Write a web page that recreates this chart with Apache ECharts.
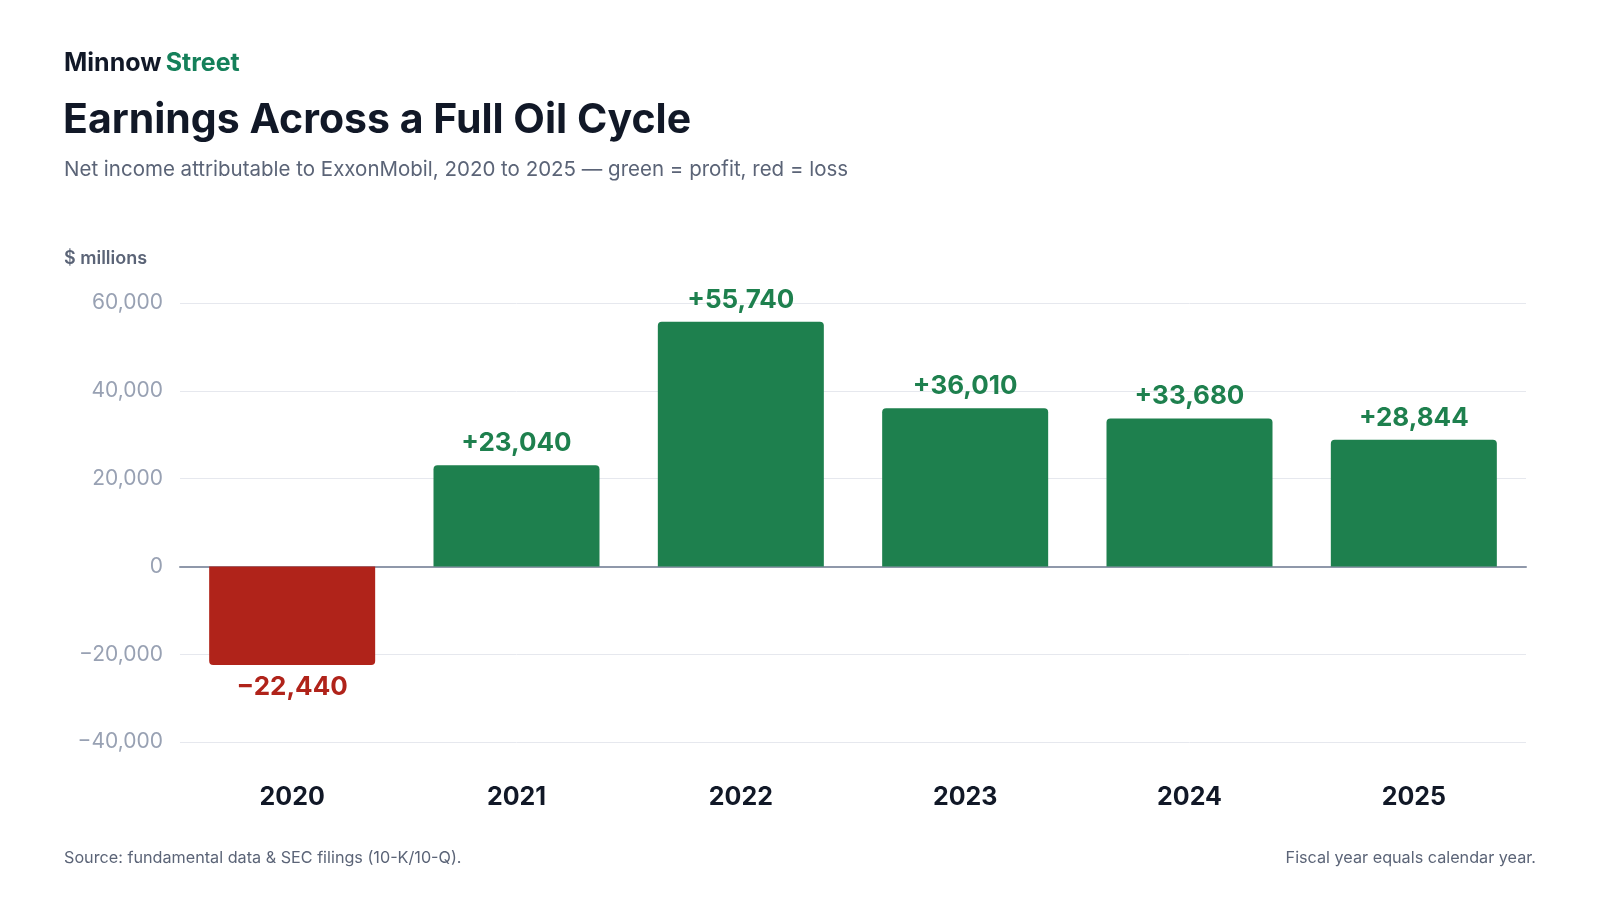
<!DOCTYPE html>
<html>
<head>
<meta charset="utf-8">
<script src="https://cdn.jsdelivr.net/npm/echarts@6/dist/echarts.min.js"></script>
<style>
  html, body { margin: 0; padding: 0; background: #fff; }
  #chart { width: 1600px; height: 900px; }
</style>
</head>
<body>
<div id="chart"></div>
<script>
// 数据
var years = ['2020', '2021', '2022', '2023', '2024', '2025'];
var netIncome = [-22440, 23040, 55740, 36010, 33680, 28844];
var yTicks = { min: -40000, max: 60000, step: 20000 };

var GREEN = '#1e804e';
var RED = '#b0231a';
var INK = '#111827';
var SLATE = '#5b6477';
var FONT = 'Inter, "Noto Sans", sans-serif';

// 千分位 + 真正的减号
var fmt = function (v, sign) {
    var s = Math.abs(v).toLocaleString('en-US');
    if (v < 0) return '\u2212' + s;
    return (sign && v > 0 ? '+' : '') + s;
};

var chart = echarts.init(document.getElementById('chart'));

var option = {
    backgroundColor: '#ffffff',
    textStyle: { fontFamily: FONT },
    title: [
        {
            text: '{a|Minnow} {b|Street}',
            left: 59, top: 43,
            textStyle: {
                rich: {
                    a: { fontSize: 25, fontWeight: 700, color: INK, fontFamily: FONT, lineHeight: 30 },
                    b: { fontSize: 25, fontWeight: 700, color: '#15805a', fontFamily: FONT, lineHeight: 30 }
                }
            }
        },
        {
            text: 'Earnings Across a Full Oil Cycle',
            left: 58, top: 91,
            textStyle: { fontSize: 41, fontWeight: 700, color: INK, fontFamily: FONT, lineHeight: 50 }
        },
        {
            text: 'Net income attributable to ExxonMobil, 2020 to 2025 \u2014 green = profit, red = loss',
            left: 59, top: 152,
            textStyle: { fontSize: 20.5, fontWeight: 400, color: SLATE, fontFamily: FONT, lineHeight: 26 }
        },
        {
            text: '$ millions',
            left: 59, top: 243,
            textStyle: { fontSize: 18, fontWeight: 600, color: SLATE, fontFamily: FONT, lineHeight: 22 }
        },
        {
            text: 'Source: fundamental data & SEC filings (10-K/10-Q).',
            left: 59, top: 843,
            textStyle: { fontSize: 16.2, fontWeight: 400, color: SLATE, fontFamily: FONT, lineHeight: 20 }
        },
        {
            text: 'Fiscal year equals calendar year.',
            right: 59, top: 843,
            textStyle: { fontSize: 16.2, fontWeight: 400, color: SLATE, fontFamily: FONT, lineHeight: 20 }
        }
    ],
    grid: {
        left: 180,
        right: 74,
        top: 303,
        bottom: 158
    },
    xAxis: {
        type: 'category',
        data: years,
        axisTick: { show: false },
        axisLine: { lineStyle: { color: '#8f98aa', width: 2 } },
        axisLabel: {
            margin: 43,
            fontSize: 25,
            fontWeight: 700,
            color: INK,
            fontFamily: FONT
        }
    },
    yAxis: {
        type: 'value',
        min: yTicks.min,
        max: yTicks.max,
        interval: yTicks.step,
        axisLine: { show: false },
        axisTick: { show: false },
        splitLine: { lineStyle: { color: '#e6e8ee', width: 1 } },
        axisLabel: {
            margin: 17,
            fontSize: 21,
            color: '#98a1b3',
            fontFamily: FONT,
            formatter: function (v) { return fmt(v, false); }
        }
    },
    series: [{
        type: 'bar',
        barWidth: '74%',
        data: netIncome.map(function (v) {
            var neg = v < 0;
            return {
                value: v,
                itemStyle: {
                    color: neg ? RED : GREEN,
                    borderRadius: neg ? [0, 0, 4, 4] : [4, 4, 0, 0]
                },
                label: {
                    position: neg ? 'bottom' : 'top',
                    color: neg ? RED : GREEN
                }
            };
        }),
        label: {
            show: true,
            distance: 9,
            fontSize: 26,
            fontWeight: 700,
            fontFamily: FONT,
            formatter: function (p) { return fmt(p.value, true); }
        }
    }]
};

chart.setOption(option);
</script>
</body>
</html>
